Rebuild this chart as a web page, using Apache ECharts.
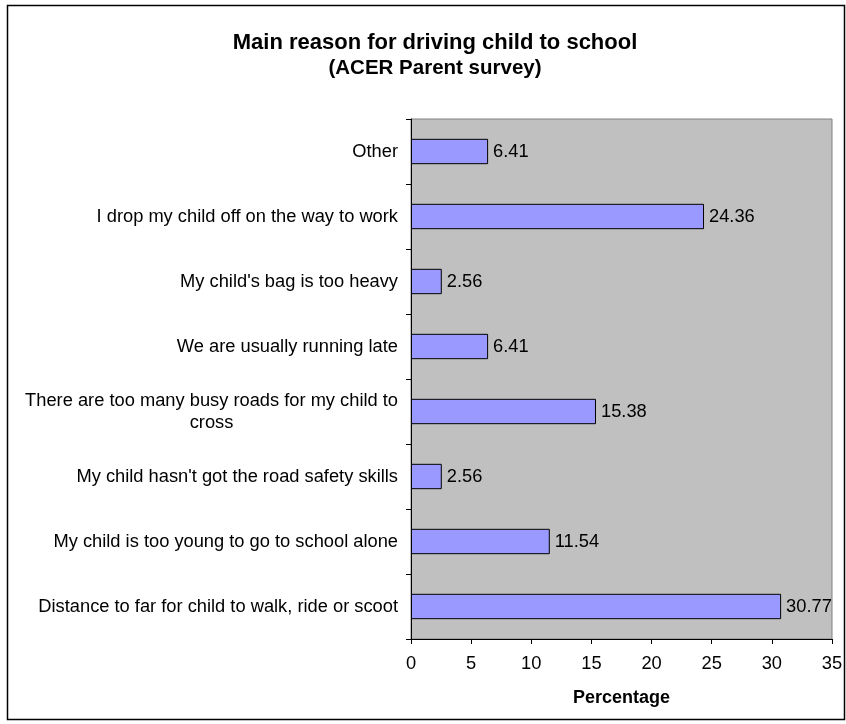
<!DOCTYPE html>
<html>
<head>
<meta charset="utf-8">
<script src="https://cdn.jsdelivr.net/npm/echarts@6/dist/echarts.min.js"></script>
<style>html,body{margin:0;padding:0;background:#fff}#c{width:846px;height:724px}</style>
</head>
<body>
<div id="c"></div>
<script>
var categories = [
  "Other",
  "I drop my child off on the way to work",
  "My child's bag is too heavy",
  "We are usually running late",
  "There are too many busy roads for my child to\ncross",
  "My child hasn't got the road safety skills",
  "My child is too young to go to school alone",
  "Distance to far for child to walk, ride or scoot"
];
var values = [6.41, 24.36, 2.56, 6.41, 15.38, 2.56, 11.54, 30.77];
var titleText = "Main reason for driving child to school";
var subtitleText = "(ACER Parent survey)";
var xAxisName = "Percentage";

var chart = echarts.init(document.getElementById('c'), null, {renderer: 'canvas'});
var FONT = "'Liberation Sans', Arial, sans-serif";
chart.setOption({
  backgroundColor: '#ffffff',
  animation: false,
  graphic: [{
    type: 'rect', left: 5, top: 3,
    shape: {width: 837, height: 714},
    style: {fill: 'none', stroke: '#000', lineWidth: 1.5}
  }],
  title: {
    text: titleText,
    subtext: subtitleText,
    left: 430, top: 27, textAlign: 'center',
    itemGap: 4,
    textStyle: {fontFamily: FONT, fontSize: 22, fontWeight: 'bold', color: '#000'},
    subtextStyle: {fontFamily: FONT, fontSize: 20.5, fontWeight: 'bold', color: '#000'}
  },
  grid: {
    left: 411, right: 14, top: 119, bottom: 85,
    show: true, backgroundColor: '#c0c0c0', borderColor: '#808080', borderWidth: 1
  },
  xAxis: {
    type: 'value', min: 0, max: 35, interval: 5,
    name: xAxisName, nameLocation: 'middle', nameGap: 50,
    nameTextStyle: {fontFamily: FONT, fontSize: 18, fontWeight: 'bold', color: '#000'},
    axisLine: {show: true, lineStyle: {color: '#000', width: 1}},
    axisTick: {show: true, length: 5, lineStyle: {color: '#000'}},
    axisLabel: {fontFamily: FONT, fontSize: 18.3, color: '#000', margin: 16},
    splitLine: {show: false}
  },
  yAxis: {
    type: 'category', data: categories, inverse: true,
    axisLine: {show: true, lineStyle: {color: '#000', width: 1}},
    axisTick: {show: true, length: 5, lineStyle: {color: '#000'}},
    axisLabel: {
      fontFamily: FONT, fontSize: 18.3, color: '#000', margin: 13, align: 'right', lineHeight: 22,
      formatter: function (v) { return '{c|' + v + '}'; },
      rich: {c: {align: 'center', fontFamily: FONT, fontSize: 18.3, color: '#000', lineHeight: 22}}
    }
  },
  series: [{
    type: 'bar', data: values, barWidth: '39%',
    itemStyle: {color: '#9999ff', borderColor: '#000', borderWidth: 1},
    label: {show: true, position: 'right', distance: 5, fontFamily: FONT, fontSize: 18.3, color: '#000',
      formatter: function(p){ return p.value.toFixed(2); }}
  }]
});
</script>
</body>
</html>
